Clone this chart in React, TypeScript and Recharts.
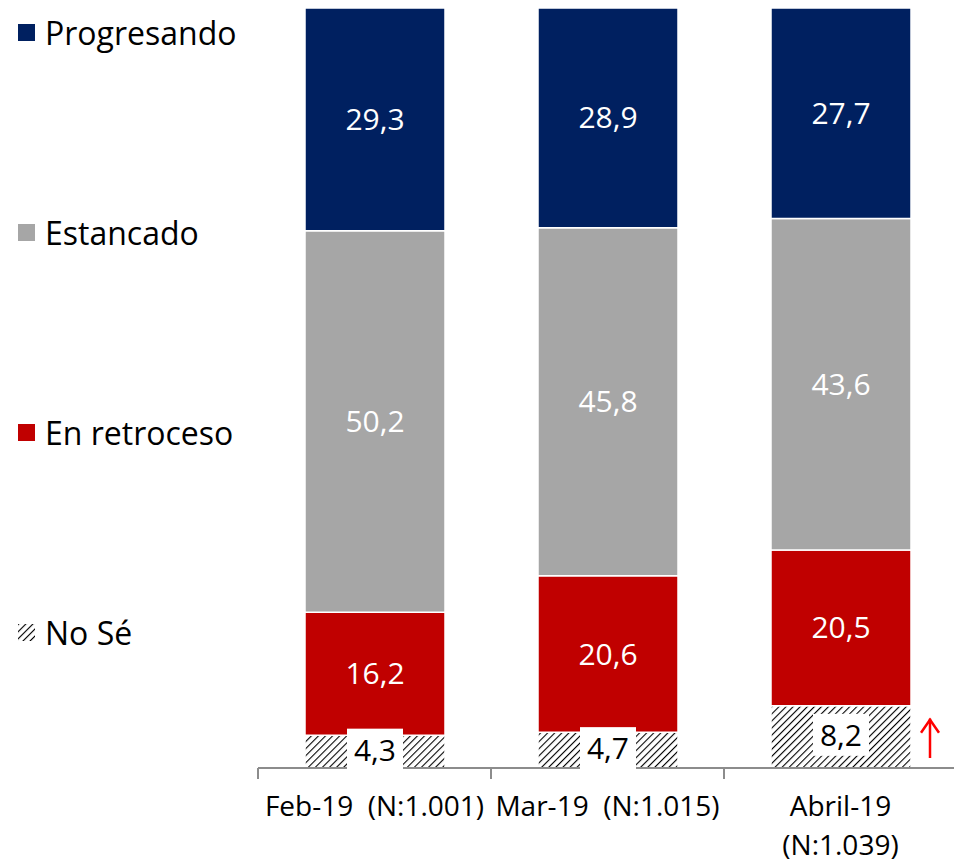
import React from 'react';
import { BarChart, Bar, XAxis, YAxis, LabelList } from 'recharts';

const CATEGORIES = ['Feb-19  (N:1.001)', 'Mar-19  (N:1.015)', 'Abril-19\n(N:1.039)'];
const NO_SE = [4.3, 4.7, 8.2];
const RETROCESO = [16.2, 20.6, 20.5];
const ESTANCADO = [50.2, 45.8, 43.6];
const PROGRESANDO = [29.3, 28.9, 27.7];
// upward arrow next to the "No Sé" segment
const RISE = [false, false, true];

const SERIES = [
  { key: 'nose', name: 'No Sé', color: 'url(#hatch)' },
  { key: 'retroceso', name: 'En retroceso', color: '#C00000' },
  { key: 'estancado', name: 'Estancado', color: '#A6A6A6' },
  { key: 'progresando', name: 'Progresando', color: '#002060' },
];

const data = CATEGORIES.map((name, i) => ({
  name,
  nose: NO_SE[i],
  retroceso: RETROCESO[i],
  estancado: ESTANCADO[i],
  progresando: PROGRESANDO[i],
  rise: RISE[i],
}));

const FONT = '"Open Sans", "Noto Sans", sans-serif';
const fmt = (v: number) => v.toFixed(1).replace('.', ',');

function AxisTick(props: any) {
  const { x, y, payload } = props;
  const half = payload.offset ?? 116.5;
  const lines = String(payload.value).split('\n');
  return (
    <g>
      <line x1={x - half} y1={y - 8} x2={x - half} y2={y + 3} stroke="#8C8C8C" strokeWidth={2} />
      <text x={x} y={y + 40} textAnchor="middle" fontSize={28} fontFamily={FONT} fill="#000" style={{ whiteSpace: 'pre' }}>
        {lines.map((l, i) => (
          <tspan key={i} x={x} dy={i === 0 ? 0 : 39}>
            {l}
          </tspan>
        ))}
      </text>
    </g>
  );
}

function NoSeLabel(props: any) {
  const { x, y, width, height, value, index } = props;
  const cx = x + width / 2;
  const cy = y + height / 2 - 2;
  const rise = data[index]?.rise;
  return (
    <g>
      <rect x={cx - 28} y={cy - 21} width={56} height={42} fill="#fff" />
      <text x={cx} y={cy + 11} textAnchor="middle" fontSize={30} fontFamily={FONT} fill="#000">
        {fmt(value)}
      </text>
      {rise && (
        <g stroke="#FF0000" strokeWidth={2.5} fill="none">
          <line x1={x + width + 19} y1={y + 13} x2={x + width + 19} y2={y + height - 10} />
          <polyline points={`${x + width + 10},${y + 27} ${x + width + 19},${y + 14} ${x + width + 28},${y + 27}`} />
        </g>
      )}
    </g>
  );
}

function HatchPattern({ id }: { id: string }) {
  return (
    <pattern id={id} width="5" height="5" patternUnits="userSpaceOnUse" patternTransform="rotate(45)">
      <rect width="5" height="5" fill="#fff" />
      <line x1="0" y1="0" x2="0" y2="5" stroke="#000" strokeWidth="2.2" />
    </pattern>
  );
}

function LegendBlock() {
  const items = [...SERIES].reverse();
  return (
    <div style={{ position: 'absolute', left: 0, top: 0 }}>
      {items.map((s, i) => (
        <div
          key={s.key}
          style={{
            position: 'absolute',
            left: 18,
            top: 12 + i * 200,
            display: 'flex',
            alignItems: 'center',
            whiteSpace: 'nowrap',
            fontFamily: FONT,
            fontSize: 32,
            color: '#000',
            height: 40,
          }}
        >
          {s.key === 'nose' ? (
            <svg width={17} height={17} style={{ marginRight: 10 }}>
              <defs>
                <HatchPattern id="hatchLegend" />
              </defs>
              <rect width={17} height={17} fill="url(#hatchLegend)" />
            </svg>
          ) : (
            <div style={{ width: 17, height: 17, background: s.color, marginRight: 10 }} />
          )}
          <span>{s.name}</span>
        </div>
      ))}
    </div>
  );
}

export default function App() {
  return (
    <div style={{ position: 'absolute', left: 0, top: 0, width: 954, height: 863, overflow: 'hidden', background: '#fff' }}>
      <BarChart width={960} height={863} data={data} margin={{ top: 8, right: 3, bottom: 0, left: 258 }} barCategoryGap={0}>
        <defs>
          <HatchPattern id="hatch" />
        </defs>
        <YAxis hide domain={[0, 100]} />
        <XAxis
          dataKey="name"
          interval={0}
          axisLine={{ stroke: '#8C8C8C', strokeWidth: 2 }}
          tickLine={false}
          tick={<AxisTick />}
          height={95}
        />
        {SERIES.map((s) => (
          <Bar
            key={s.key}
            dataKey={s.key}
            name={s.name}
            stackId="a"
            fill={s.color}
            stroke="#fff"
            strokeWidth={1.5}
            barSize={140}
            isAnimationActive={false}
          >
            {s.key === 'nose' ? (
              <LabelList dataKey={s.key} content={<NoSeLabel />} />
            ) : (
              <LabelList
                dataKey={s.key}
                position="center"
                formatter={(v: any) => fmt(Number(v))}
                fill="#fff"
                fontSize={30}
                fontFamily={FONT}
              />
            )}
          </Bar>
        ))}
      </BarChart>
      <LegendBlock />
    </div>
  );
}
